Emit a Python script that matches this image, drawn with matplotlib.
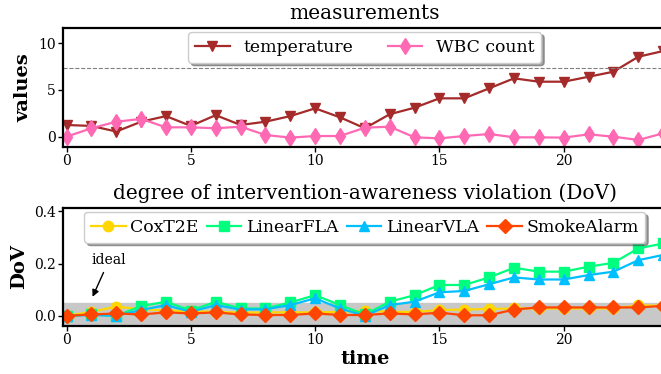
import numpy as np
import matplotlib
matplotlib.use("Agg")
import matplotlib.pyplot as plt

plt.rcParams['font.family'] = ['DejaVu Serif']

# time steps
time = list(range(25))

# top panel: measurements
temperature = [1.25, 1.15, 0.55, 1.6, 2.2, 1.15, 2.3, 1.25, 1.6, 2.2, 3.03,
               2.07, 0.9, 2.4, 3.1, 4.1, 4.1, 5.17, 6.24, 5.88, 5.88, 6.41,
               6.95, 8.55, 9.16]
wbc_count = [0.0, 0.9, 1.6, 1.9, 1.0, 1.0, 0.9, 1.07, 0.18, -0.1, 0.07,
             0.07, 0.96, 1.07, -0.07, -0.18, 0.07, 0.29, -0.07, -0.07, -0.1,
             0.25, 0.0, -0.35, 0.36]
threshold = 7.35

# bottom panel: degree of violation
coxt2e = [0.0, 0.015, 0.035, 0.025, 0.02, 0.018, 0.015, 0.012, 0.013, 0.013,
          0.013, 0.015, 0.02, 0.015, 0.015, 0.022, 0.024, 0.026, 0.028, 0.028,
          0.028, 0.028, 0.028, 0.04, 0.038]
linear_fla = [0.0, 0.005, 0.0, 0.037, 0.054, 0.02, 0.054, 0.028, 0.028, 0.051,
              0.079, 0.041, 0.005, 0.054, 0.079, 0.118, 0.118, 0.147, 0.184,
              0.169, 0.169, 0.188, 0.203, 0.258, 0.277]
linear_vla = [0.0, 0.003, 0.0, 0.022, 0.041, 0.015, 0.041, 0.024, 0.025, 0.041,
              0.067, 0.028, 0.0, 0.041, 0.054, 0.09, 0.095, 0.121, 0.147,
              0.139, 0.139, 0.156, 0.169, 0.213, 0.233]
smoke_alarm = [0.0, 0.005, 0.009, 0.005, 0.013, 0.009, 0.013, 0.005, 0.003,
               0.003, 0.009, 0.003, 0.003, 0.009, 0.005, 0.012, 0.002, 0.002,
               0.024, 0.032, 0.032, 0.032, 0.032, 0.032, 0.038]

fig = plt.figure(figsize=(6.61, 3.74), dpi=100)
ax1 = fig.add_axes([0.0958, 0.6078, 0.9124, 0.318])
ax2 = fig.add_axes([0.0958, 0.1291, 0.9124, 0.3156])

ms = 7.5
lw = 1.6

# measurements
ax1.plot(time, temperature, color='#a52a2a', marker='v', ms=ms, lw=lw, label='temperature')
ax1.plot(time, wbc_count, color='#ff69b4', marker='d', ms=ms + 1, lw=lw, label='WBC count')
ax1.axhline(threshold, color='gray', ls='--', lw=0.8)
ax1.set_xlim(-0.13, 24.13)
ax1.set_ylim(-1.07, 11.65)
ax1.set_yticks([0, 5, 10])
ax1.set_xticks([0, 5, 10, 15, 20])
ax1.set_ylabel('values', fontsize=14, fontweight='bold')
ax1.set_title('measurements', fontsize=14.5)
ax1.legend(loc='upper center', ncol=2, fontsize=12.4, shadow=True, fancybox=True,
           borderaxespad=0.25)

# degree of intervention-awareness violation
ax2.axhspan(-0.05, 0.05, color='#c8c8c8', zorder=0)
ax2.plot(time, coxt2e, color='#ffd700', marker='o', ms=ms, lw=lw, label='CoxT2E')
ax2.plot(time, linear_fla, color='#00ff7f', marker='s', ms=ms, lw=lw, label='LinearFLA')
ax2.plot(time, linear_vla, color='#00bfff', marker='^', ms=ms, lw=lw, label='LinearVLA')
ax2.plot(time, smoke_alarm, color='#ff4500', marker='D', ms=ms, lw=lw, label='SmokeAlarm')
ax2.annotate('ideal', xy=(1.0, 0.063), xytext=(1.71, 0.213), fontsize=10,
             ha='center', va='center',
             arrowprops=dict(arrowstyle='-|>', color='black', lw=1, mutation_scale=10))
ax2.set_xlim(-0.13, 24.13)
ax2.set_ylim(-0.038, 0.414)
ax2.set_yticks([0.0, 0.2, 0.4])
ax2.set_xticks([0, 5, 10, 15, 20])
ax2.set_ylabel('DoV', fontsize=14, fontweight='bold')
ax2.set_xlabel('time', fontsize=14, fontweight='bold', labelpad=2)
ax2.set_title('degree of intervention-awareness violation (DoV)', fontsize=14.5)
ax2.legend(loc='upper center', ncol=4, fontsize=12.4, shadow=True, fancybox=True,
           handlelength=2.0, handletextpad=0.25, columnspacing=0.5,
           borderaxespad=0.25)

for ax in (ax1, ax2):
    for sp in ax.spines.values():
        sp.set_linewidth(1.6)
    ax.tick_params(labelsize=10, width=1, length=3.5, pad=2)

fig.savefig('out.png', dpi=100)
